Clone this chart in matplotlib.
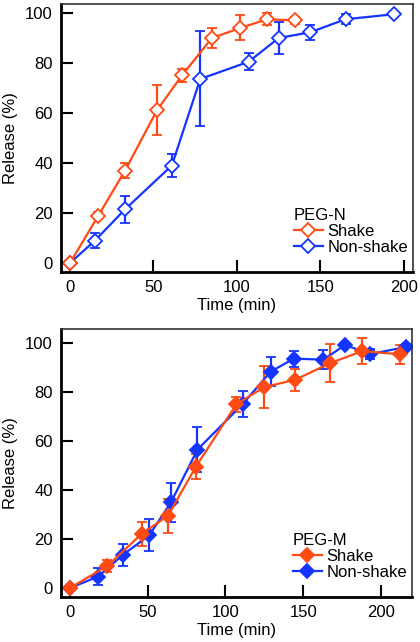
import matplotlib.pyplot as plt
from matplotlib.lines import Line2D

plt.rcParams['font.family'] = ['Liberation Sans', 'DejaVu Sans']
plt.rcParams['font.size'] = 12

orange = '#ff4a14'
blue = '#1434ff'

# PEG-N
n_shake_t = [0, 17, 33, 52, 67, 85, 102, 118, 135]
n_shake_y = [0, 19, 37, 61, 75, 90, 94, 97.5, 97]
n_shake_e = [0, 1.5, 3, 10, 2.5, 4, 5, 2.5, 1.5]
n_non_t = [0, 15, 33, 61, 78, 107, 125, 144, 165, 194]
n_non_y = [0, 9, 21.5, 39, 73.6, 80.5, 90, 92.3, 97.5, 99.5]
n_non_e = [0, 3, 5.4, 4.5, 19, 3.5, 6.5, 3, 2, 0]

# PEG-M
m_shake_t = [0, 24, 46, 63, 81, 107, 125, 145, 167, 188, 212]
m_shake_y = [0, 9, 22, 29.5, 49.5, 75, 82, 85, 91.7, 96.7, 95.4]
m_shake_e = [0, 2.5, 5, 7, 5, 3, 8.7, 4.4, 7.8, 5.2, 3.8]
m_non_t = [0, 18, 34, 51, 65, 82, 111, 129, 144, 163, 177, 193, 216]
m_non_y = [0, 4.6, 13.5, 21.5, 35, 56.5, 75, 88.3, 93.6, 93.2, 99.2, 95.4, 98.4]
m_non_e = [0, 3.4, 4.5, 6.5, 8, 9, 5.4, 6, 3.3, 4, 0, 2, 1]

fig = plt.figure(figsize=(4.2, 6.42), dpi=100)
ax1 = fig.add_axes([0.1452, 0.5763, 0.8381, 0.4175])
ax2 = fig.add_axes([0.1452, 0.0701, 0.8358, 0.4174])


def draw(ax, data, filled, title):
    handles = {}
    for t, y, e, c, lab in data:
        style = dict(color=c, lw=1.6, marker='D', ms=7.5 if filled else 7,
                     mfc=c if filled else 'white', mec=c, mew=1.3)
        ax.errorbar(t, y, yerr=e, elinewidth=1.6, capsize=3.8, capthick=1.6,
                    **style)
        handles[lab] = Line2D([], [], **style)
    leg = ax.legend([handles['Shake'], handles['Non-shake']], ['Shake', 'Non-shake'],
                    title=title, loc='lower right', frameon=False,
                    bbox_to_anchor=(1.02, 0.02), handlelength=1.75,
                    handletextpad=0.3, labelspacing=0.05, borderpad=0.2,
                    title_fontsize=12, fontsize=12)
    leg._legend_box.align = 'left'
    leg._legend_box.sep = 1
    ax.set_ylabel('Release (%)', labelpad=5)
    ax.set_xlabel('Time (min)', labelpad=2)
    ax.set_yticks([0, 20, 40, 60, 80, 100])
    ax.tick_params(direction='in', length=8.5, width=1.5, pad=6, labelsize=12)
    for s in ['left', 'bottom']:
        ax.spines[s].set_linewidth(2.0)
    for s in ['top', 'right']:
        ax.spines[s].set_linewidth(1.2)
        ax.spines[s].set_color('#333333')


draw(ax1, [(n_non_t, n_non_y, n_non_e, blue, 'Non-shake'),
           (n_shake_t, n_shake_y, n_shake_e, orange, 'Shake')], False, 'PEG-N')
ax1.set_xlim(-5.4, 205.4)
ax1.set_ylim(-3.6, 103.6)
ax1.set_xticks([0, 50, 100, 150, 200])

draw(ax2, [(m_non_t, m_non_y, m_non_e, blue, 'Non-shake'),
           (m_shake_t, m_shake_y, m_shake_e, orange, 'Shake')], True, 'PEG-M')
ax2.set_xlim(-5.8, 220)
ax2.set_ylim(-3.7, 105.7)
ax2.set_xticks([0, 50, 100, 150, 200])

fig.savefig('out.png', dpi=100)
